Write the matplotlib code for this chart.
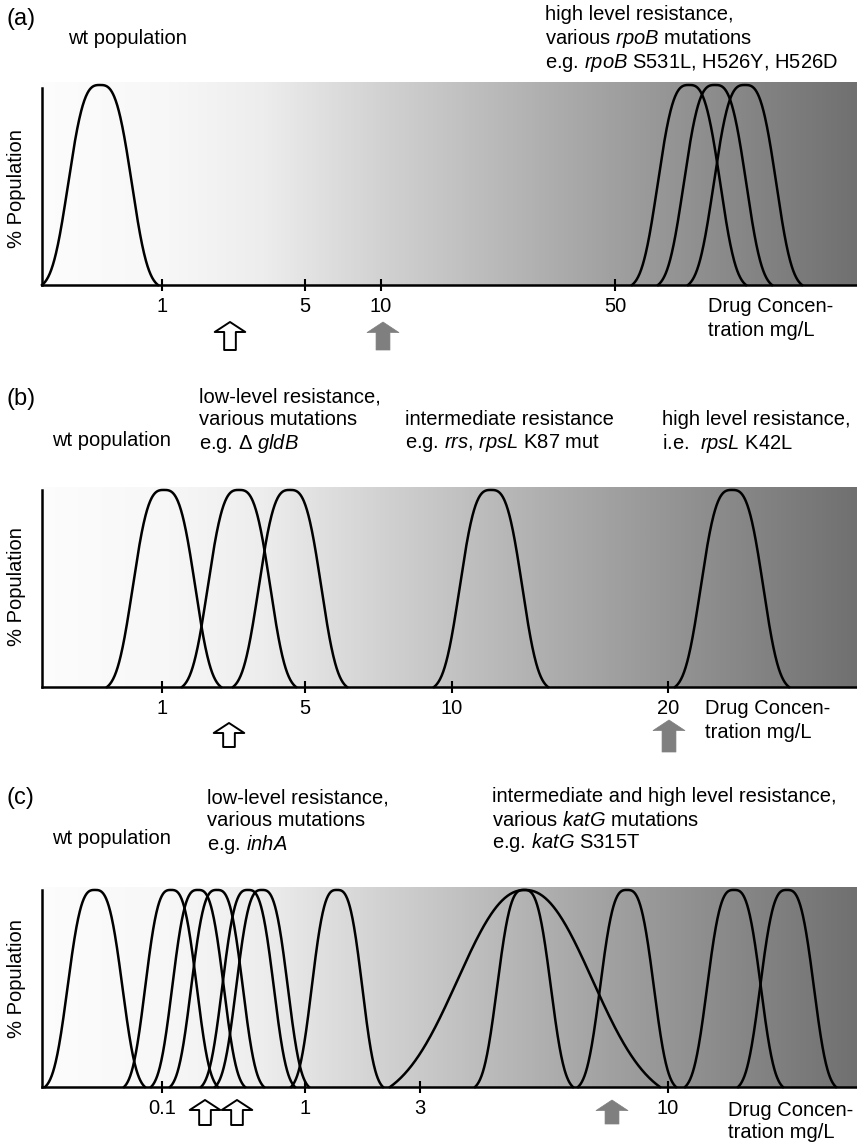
import numpy as np
import matplotlib
matplotlib.use("Agg")
import matplotlib.pyplot as plt
from matplotlib.colors import LinearSegmentedColormap

plt.rcParams['font.family'] = ['Liberation Sans', 'DejaVu Sans']
plt.rcParams['mathtext.fontset'] = 'custom'
plt.rcParams['mathtext.rm'] = 'Liberation Sans'
plt.rcParams['mathtext.it'] = 'Liberation Sans:italic'

# positions are schematic units along the drawn concentration axis
# panel (a)
a_peaks = [100, 689, 715, 745]
a_widths = [58, 57, 57, 57]
a_ticks = [162, 305, 381, 615]
a_tick_labels = ['1', '5', '10', '50']
a_open_arrows = [230]
a_grey_arrows = [383]

# panel (b)
b_peaks = [164, 239, 290, 491, 732]
b_widths = [57, 57, 57, 57, 57]
b_ticks = [162, 305, 452, 668]
b_tick_labels = ['1', '5', '10', '20']
b_open_arrows = [229]
b_grey_arrows = [669]

# panel (c)
c_peaks = [95, 171, 198, 217, 248, 262, 337, 524, 627, 734, 787]
c_widths = [50, 47, 47, 47, 47, 47, 46, 49, 49, 49, 49]
c_broad_peaks = [525]
c_broad_widths = [135]
c_ticks = [162, 305, 420, 668]
c_tick_labels = ['0.1', '1', '3', '10']
c_open_arrows = [205, 237]
c_grey_arrows = [612]

W, H = 857, 1144
X0, X1 = 42, 857
FS = 14.5

shade = LinearSegmentedColormap.from_list('shade', [
    (0.00, (0.99, 0.99, 0.99)),
    (0.15, (0.97, 0.97, 0.97)),
    (0.27, (0.93, 0.93, 0.93)),
    (0.42, (0.82, 0.82, 0.82)),
    (0.48, (0.78, 0.78, 0.78)),
    (0.70, (0.63, 0.63, 0.63)),
    (1.00, (0.44, 0.44, 0.44)),
])


def bell(centre, half_width, k=3.0, a=4.0):
    """Schematic population curve that meets the baseline at +/- half_width."""
    x = np.linspace(centre - half_width, centre + half_width, 300)
    u = np.abs(x - centre) / half_width
    y = (np.exp(-a * u ** k) - np.exp(-a)) / (1 - np.exp(-a))
    return x, y


def make_panel(fig, top, bottom, ticks, tick_labels, yaxis_top=1.0):
    """Axes with grey gradient background, bare baseline and crossing ticks."""
    ax = fig.add_axes([X0 / W, 1 - bottom / H, (X1 - X0) / W, (bottom - top) / H])
    grad = np.linspace(0, 1, 512).reshape(1, -1)
    ax.imshow(grad, cmap=shade, aspect='auto', extent=(X0, X1, 0, 1.015),
              zorder=0, interpolation='bilinear')
    ax.set_xlim(X0, X1)
    ax.set_ylim(0, 1.015)
    for side in ['top', 'right']:
        ax.spines[side].set_visible(False)
    for side in ['left', 'bottom']:
        ax.spines[side].set_linewidth(1.8)
        ax.spines[side].set_zorder(5)
    ax.spines['left'].set_bounds(0, yaxis_top)
    ax.set_yticks([])
    ax.set_xticks(ticks, tick_labels)
    ax.tick_params(axis='x', direction='inout', length=9, width=1.5,
                   pad=4, labelsize=FS)
    return ax


def draw_curves(ax, peaks, widths, **kw):
    for c, w in zip(peaks, widths):
        x, y = bell(c, w, **kw)
        ax.plot(x, y, color='black', lw=1.8, clip_on=False, zorder=3)


def draw_arrows(ax, xs, tip, tail, grey):
    for x in xs:
        if grey:
            props = dict(arrowstyle='simple,head_length=0.38,head_width=1.15,tail_width=0.5',
                         fc='#7f7f7f', ec='#7f7f7f', lw=0.5)
        else:
            props = dict(arrowstyle='simple,head_length=0.36,head_width=1.1,tail_width=0.42',
                         fc='white', ec='black', lw=1.4)
        props.update(shrinkA=0, shrinkB=0, mutation_scale=20)
        ax.annotate('', xy=(x, tip), xytext=(x, tail),
                    xycoords=('data', 'axes pixels'),
                    textcoords=('data', 'axes pixels'),
                    arrowprops=props, annotation_clip=False)


def text(fig, x, y, s, **kw):
    kw.setdefault('fontsize', FS)
    fig.text(x / W, 1 - y / H, s, ha='left', va='center', **kw)


fig = plt.figure(figsize=(W / 100, H / 100), dpi=100)

# ---- (a)
ax = make_panel(fig, 82, 285, a_ticks, a_tick_labels, yaxis_top=0.985)
draw_curves(ax, a_peaks, a_widths)
draw_arrows(ax, a_open_arrows, -37, -65, grey=False)
draw_arrows(ax, a_grey_arrows, -37, -65, grey=True)
text(fig, 6, 19, '(a)', fontsize=17)
text(fig, 68, 38, 'wt population')
text(fig, 545, 15, 'high level resistance,')
text(fig, 545, 39, r'various $\mathit{rpoB}$ mutations')
text(fig, 545, 63, r'e.g. $\mathit{rpoB}$ S531L, H526Y, H526D')
text(fig, 708, 307, 'Drug Concen-')
text(fig, 708, 330, 'tration mg/L')
fig.text(17 / W, 1 - 189 / H, '% Population', rotation=90, ha='center',
         va='center', fontsize=FS)

# ---- (b)
ax = make_panel(fig, 487, 687, b_ticks, b_tick_labels)
draw_curves(ax, b_peaks, b_widths)
draw_arrows(ax, b_open_arrows, -36, -60, grey=False)
draw_arrows(ax, b_grey_arrows, -33, -65, grey=True)
text(fig, 6, 399, '(b)', fontsize=17)
text(fig, 52, 440, 'wt population')
text(fig, 199, 397, 'low-level resistance,')
text(fig, 199, 420, 'various mutations')
text(fig, 199, 443, r'e.g. Δ $\mathit{gldB}$')
text(fig, 405, 420, 'intermediate resistance')
text(fig, 405, 443, r'e.g. $\mathit{rrs}$, $\mathit{rpsL}$ K87 mut')
text(fig, 662, 420, 'high level resistance,')
text(fig, 662, 443, r'i.e.  $\mathit{rpsL}$ K42L')
text(fig, 705, 709, 'Drug Concen-')
text(fig, 705, 733, 'tration mg/L')
fig.text(17 / W, 1 - 587 / H, '% Population', rotation=90, ha='center',
         va='center', fontsize=FS)

# ---- (c)
ax = make_panel(fig, 887, 1087, c_ticks, c_tick_labels)
draw_curves(ax, c_peaks, c_widths)
draw_curves(ax, c_broad_peaks, c_broad_widths, k=2.2, a=2.5)
draw_arrows(ax, c_open_arrows, -13, -38, grey=False)
draw_arrows(ax, c_grey_arrows, -13, -37, grey=True)
text(fig, 6, 798, '(c)', fontsize=17)
text(fig, 52, 838, 'wt population')
text(fig, 207, 798, 'low-level resistance,')
text(fig, 207, 821, 'various mutations')
text(fig, 207, 844, r'e.g. $\mathit{inhA}$')
text(fig, 492, 797, 'intermediate and high level resistance,')
text(fig, 492, 820, r'various $\mathit{katG}$ mutations')
text(fig, 492, 843, r'e.g. $\mathit{katG}$ S315T')
text(fig, 728, 1110, 'Drug Concen-')
text(fig, 728, 1133, 'tration mg/L')
fig.text(17 / W, 1 - 979 / H, '% Population', rotation=90, ha='center',
         va='center', fontsize=FS)

fig.savefig('out.png', dpi=100)
plt.close(fig)
